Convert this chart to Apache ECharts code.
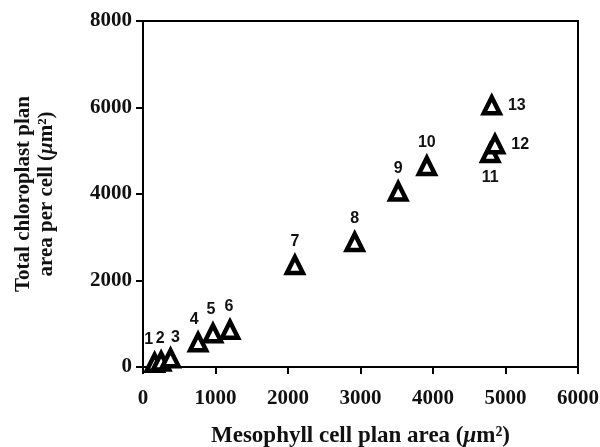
<!DOCTYPE html>
<html>
<head>
<meta charset="utf-8">
<script src="https://cdn.jsdelivr.net/npm/echarts@6/dist/echarts.min.js"></script>
<style>html,body{margin:0;padding:0;background:#fff}#c{width:600px;height:447px}</style>
</head>
<body>
<div id="c"></div>
<script>
var pointLabels = ['1','2','3','4','5','6','7','8','9','10','11','12','13'];
var cellArea = [160, 250, 380, 760, 965, 1200, 2095, 2920, 3520, 3915, 4790, 4855, 4810];
var chloroArea = [100, 130, 200, 570, 780, 860, 2360, 2890, 4060, 4650, 4950, 5150, 6050];
var xTicks = [0, 1000, 2000, 3000, 4000, 5000, 6000];
var yTicks = [0, 2000, 4000, 6000, 8000];

var labelPos = {'11': 'bottom', '12': 'right', '13': 'right'};
var labelShift = {'1': [-6, 0], '2': [-1, 0], '3': [5, 2], '4': [-4, 0], '5': [-2, 0], '6': [-1, 0]};
var data = pointLabels.map(function (n, i) {
  var pos = labelPos[n] || 'top';
  return {
    value: [cellArea[i], chloroArea[i]],
    name: n,
    label: { position: pos, distance: pos === 'top' ? 5 : 6, offset: labelShift[n] || [0, 0] }
  };
});

var serif = '"Liberation Serif", "DejaVu Serif", serif';
var chart = echarts.init(document.getElementById('c'));
chart.setOption({
  animation: false,
  grid: { left: 143, right: 22, top: 21, bottom: 80, show: true, borderColor: '#000', borderWidth: 2,
          containLabel: false, outerBoundsMode: 'none' },
  xAxis: {
    type: 'value', min: 0, max: 6000, interval: 1000,
    axisLine: { show: true, onZero: false, lineStyle: { color: '#000', width: 2 } },
    axisTick: { show: true, inside: false, length: 7, lineStyle: { color: '#000', width: 2 } },
    splitLine: { show: false },
    axisLabel: { color: '#111', fontFamily: serif, fontWeight: 'bold', fontSize: 21, margin: 21,
      formatter: function (v) { return String(v); } },
    name: '{t|Mesophyll cell plan area (}{i|μ}{t|m²)}',
    nameLocation: 'middle', nameGap: 58,
    nameTextStyle: {
      rich: {
        t: { fontFamily: serif, fontWeight: 'bold', fontSize: 23, color: '#111' },
        i: { fontFamily: serif, fontWeight: 'bold', fontStyle: 'italic', fontSize: 23, color: '#111' }
      }
    }
  },
  yAxis: {
    type: 'value', min: 0, max: 8000, interval: 2000,
    axisLine: { show: true, lineStyle: { color: '#000', width: 2 } },
    axisTick: { show: true, inside: false, length: 7, lineStyle: { color: '#000', width: 2 } },
    splitLine: { show: false },
    axisLabel: { color: '#111', fontFamily: serif, fontWeight: 'bold', fontSize: 21, margin: 11,
      formatter: function (v) { return String(v); } },
    name: '{t|Total chloroplast plan}\n{t|area per cell (}{i|μ}{t|m²)}',
    nameLocation: 'middle', nameGap: 85, nameRotate: 90,
    nameTextStyle: {
      align: 'center',
      rich: {
        t: { fontFamily: serif, fontWeight: 'bold', fontSize: 21, color: '#111', lineHeight: 23, align: 'center' },
        i: { fontFamily: serif, fontWeight: 'bold', fontStyle: 'italic', fontSize: 21, color: '#111', lineHeight: 23 }
      }
    }
  },
  series: [{
    type: 'scatter',
    symbol: 'triangle',
    symbolSize: 16,
    itemStyle: { color: '#fff', borderColor: '#000', borderWidth: 4.5, opacity: 1 },
    label: {
      show: true,
      formatter: function (p) { return p.name; },
      fontFamily: '"Liberation Sans", Arial, sans-serif',
      fontWeight: 'bold', fontSize: 16, color: '#111'
    },
    data: data
  }]
});
</script>
</body>
</html>
